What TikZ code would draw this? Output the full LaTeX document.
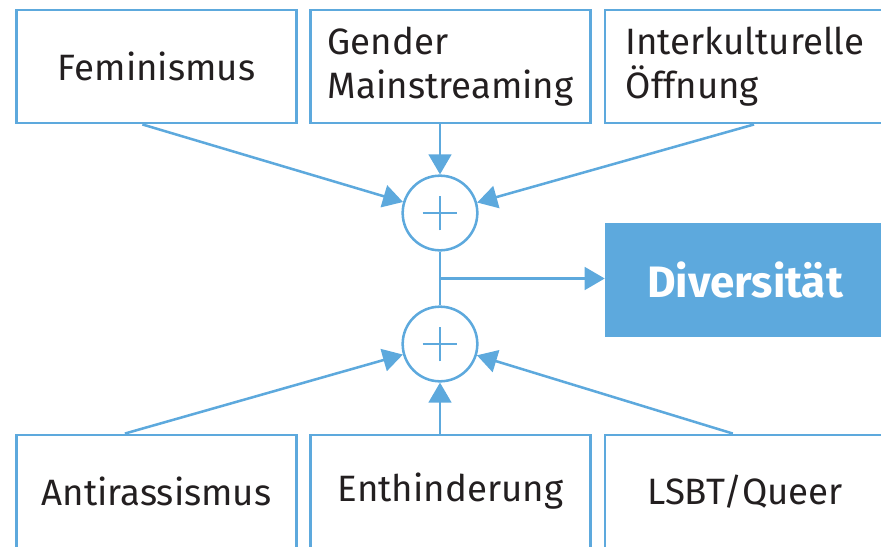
\documentclass[tikz,border=0pt]{standalone}
\usepackage{fontspec}
\setmainfont{Fira Sans}
\usetikzlibrary{arrows.meta,calc}
\definecolor{diablue}{HTML}{5DA9DD}
\definecolor{txtgray}{HTML}{231F20}
\begin{document}
\begin{tikzpicture}[x=0.75pt,y=-0.75pt,
  box/.style={draw=diablue, line width=1.9pt, minimum width=210pt, minimum height=85pt,
    inner sep=0pt, text=txtgray, align=left, font=\fontsize{27.5}{32.5}\selectfont},
  sumnode/.style={circle, draw=diablue, line width=1.9pt, minimum size=56pt, inner sep=0pt},
  link/.style={draw=diablue, line width=1.9pt},
  arr/.style={link, -{Triangle[length=15pt,width=17pt]}},
  plusbar/.style={draw=diablue, line width=1.9pt},
  target/.style={fill=diablue, minimum width=210pt, minimum height=85.5pt, inner sep=0pt,
    text=white, font=\bfseries\fontsize{33}{38}\selectfont}]
\useasboundingbox (0,0) rectangle (881,546);
\clip (0,0) rectangle (881,546);

% source boxes, upper row
\node[box] (fem) at (156.5,66.5) {Feminismus};
\node[box] (gen) at (450.5,66.5) {Gender\\Mainstreaming};
\node[box] (ikö) at (745,66.5) {Interkulturelle\\Öffnung};

% source boxes, lower row
\node[box] (ant) at (156.5,491.5) {Antirassismus};
\node[box] (ent) at (450.5,491.5) {Enthinderung};
\node[box] (lsb) at (745,491.5) {LSBT/Queer};

% summing junctions
\node[sumnode] (s1) at (440,213) {};
\node[sumnode] (s2) at (440,344) {};
\foreach \s in {s1,s2}{
  \draw[plusbar] ([xshift=-13pt]\s.center) -- ([xshift=13pt]\s.center);
  \draw[plusbar] ([yshift=-13pt]\s.center) -- ([yshift=13pt]\s.center);
}

% result
\node[target] (div) at (745,280) {Diversität};

% inputs into the upper junction
\draw[arr] ($(fem.south west)!0.45!(fem.south east)$) -- (s1);
\draw[arr] (s1 |- gen.south) -- (s1);
\draw[arr] ($(ikö.south west)!0.532!(ikö.south east)$) -- (s1);

% inputs into the lower junction
\draw[arr] ($(ant.north west)!0.388!(ant.north east)$) -- (s2);
\draw[arr] (s2 |- ent.north) -- (s2);
\draw[arr] ($(lsb.north west)!0.457!(lsb.north east)$) -- (s2);

% both junctions feed the result
\draw[link] (s1) -- (s2);
\coordinate (j) at ($(s1)!0.5!(s2)$);
\draw[arr] (j) -- (j -| div.west);
\end{tikzpicture}
\end{document}
